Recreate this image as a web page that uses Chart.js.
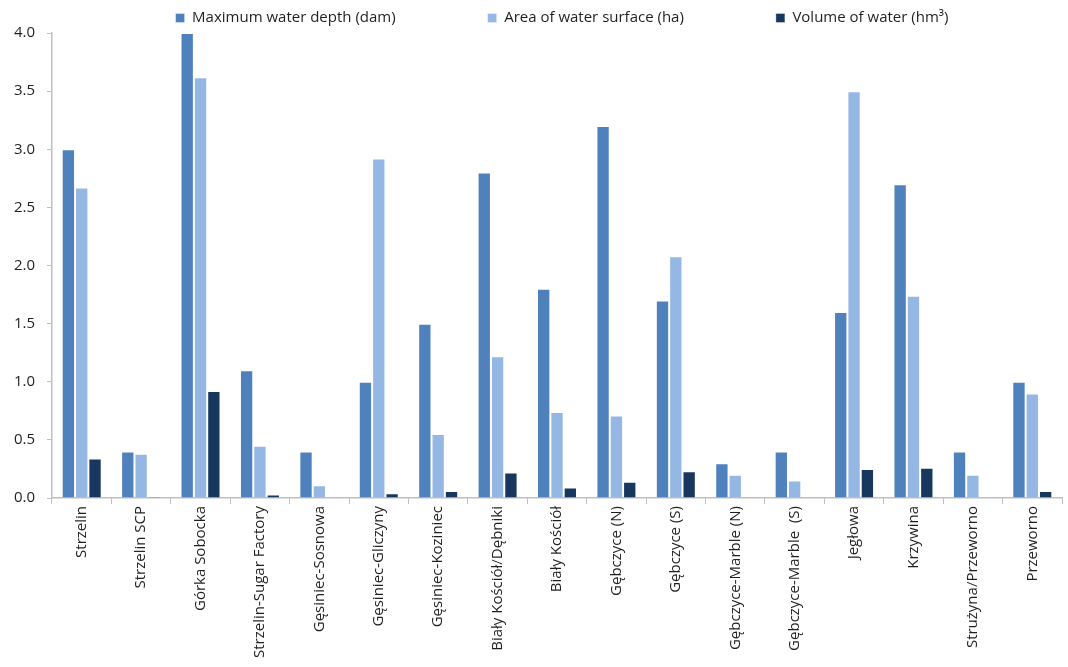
<!DOCTYPE html>
<html>
<head>
<meta charset="utf-8">
<script src="https://cdn.jsdelivr.net/npm/chart.js@4/dist/chart.umd.min.js"></script>
<style>
html,body{margin:0;padding:0;background:#fff;}
#wrap{width:1068px;height:667px;position:relative;}
</style>
</head>
<body>
<div id="wrap"><canvas id="c"></canvas></div>
<script>
const categories = ["Strzelin","Strzelin SCP","Górka Sobocka","Strzelin-Sugar Factory","Gęsiniec-Sosnowa","Gęsiniec-Gliczyny","Gęsiniec-Koziniec","Biały Kościół/Dębniki","Biały Kościół","Gębczyce (N)","Gębczyce (S)","Gębczyce-Marble (N)","Gębczyce-Marble  (S)","Jegłowa","Krzywina","Strużyna/Przeworno","Przeworno"];
const maxDepth = [3.0,0.4,4.0,1.1,0.4,1.0,1.5,2.8,1.8,3.2,1.7,0.3,0.4,1.6,2.7,0.4,1.0];
const area = [2.67,0.38,3.62,0.45,0.11,2.92,0.55,1.22,0.74,0.71,2.08,0.2,0.15,3.5,1.74,0.2,0.9];
const volume = [0.34,0.01,0.92,0.03,0,0.04,0.06,0.22,0.09,0.14,0.23,0,0,0.25,0.26,0,0.06];
const seriesNames = ["Maximum water depth (dam)","Area of water surface (ha)","Volume of water (hm³)"];
const yTicks = [0,0.5,1.0,1.5,2.0,2.5,3.0,3.5,4.0];

const FONT = "'Open Sans', sans-serif";
const TXT = '#1f1f1f';
const AXIS = '#bfbfbf';
const FS = 15;

const mk = (label, data, color) => ({
  label, data, backgroundColor: color, borderColor: 'rgba(255,255,255,0.35)', borderWidth: 1,
  categoryPercentage: 0.673, barPercentage: 1.0
});

// places the legend row (wide item spacing) at the top without inflating its height
const legendPlace = {
  id: 'legendPlace',
  afterLayout(chart) {
    const lg = chart.legend;
    const p = lg.options.labels.padding;
    const ih = FS;
    lg.top = 18 - ih / 2 - p;
    const dx = 5;
    lg.left += dx; lg.right += dx;
  }
};

new Chart(document.getElementById('c'), {
  type: 'bar',
  data: {
    labels: categories,
    datasets: [
      mk(seriesNames[0], maxDepth, '#4f81bd'),
      mk(seriesNames[1], area, '#95b7e3'),
      mk(seriesNames[2], volume, '#17375e')
    ]
  },
  plugins: [legendPlace],
  options: {
    responsive: true,
    maintainAspectRatio: false,
    animation: false,
    layout: { padding: { left: 0, right: 6, top: 0, bottom: 0 } },
    plugins: {
      tooltip: { enabled: false },
      legend: {
        position: 'top',
        fullSize: false,
        maxHeight: 33,
        labels: {
          boxWidth: 9, boxHeight: 9, padding: 92,
          color: TXT, font: { family: FONT, size: FS }
        }
      }
    },
    scales: {
      x: {
        grid: { display: true, drawOnChartArea: false, offset: true, tickLength: 6, color: AXIS, tickColor: AXIS },
        border: { color: AXIS, width: 1.5 },
        ticks: { maxRotation: 90, minRotation: 90, autoSkip: false, color: TXT, font: { family: FONT, size: FS }, padding: 2 },
        afterFit: (s) => { s.height = 169; }
      },
      y: {
        min: 0, max: 4,
        afterBuildTicks: (s) => { s.ticks = yTicks.map(v => ({ value: v })); },
        grid: { display: true, drawOnChartArea: false, tickLength: 5, color: AXIS, tickColor: AXIS },
        border: { color: AXIS, width: 1.5 },
        ticks: { color: TXT, font: { family: FONT, size: FS }, padding: 12, callback: (v) => Number(v).toFixed(1) },
        afterFit: (s) => { s.width = 52; }
      }
    }
  }
});
</script>
</body>
</html>
